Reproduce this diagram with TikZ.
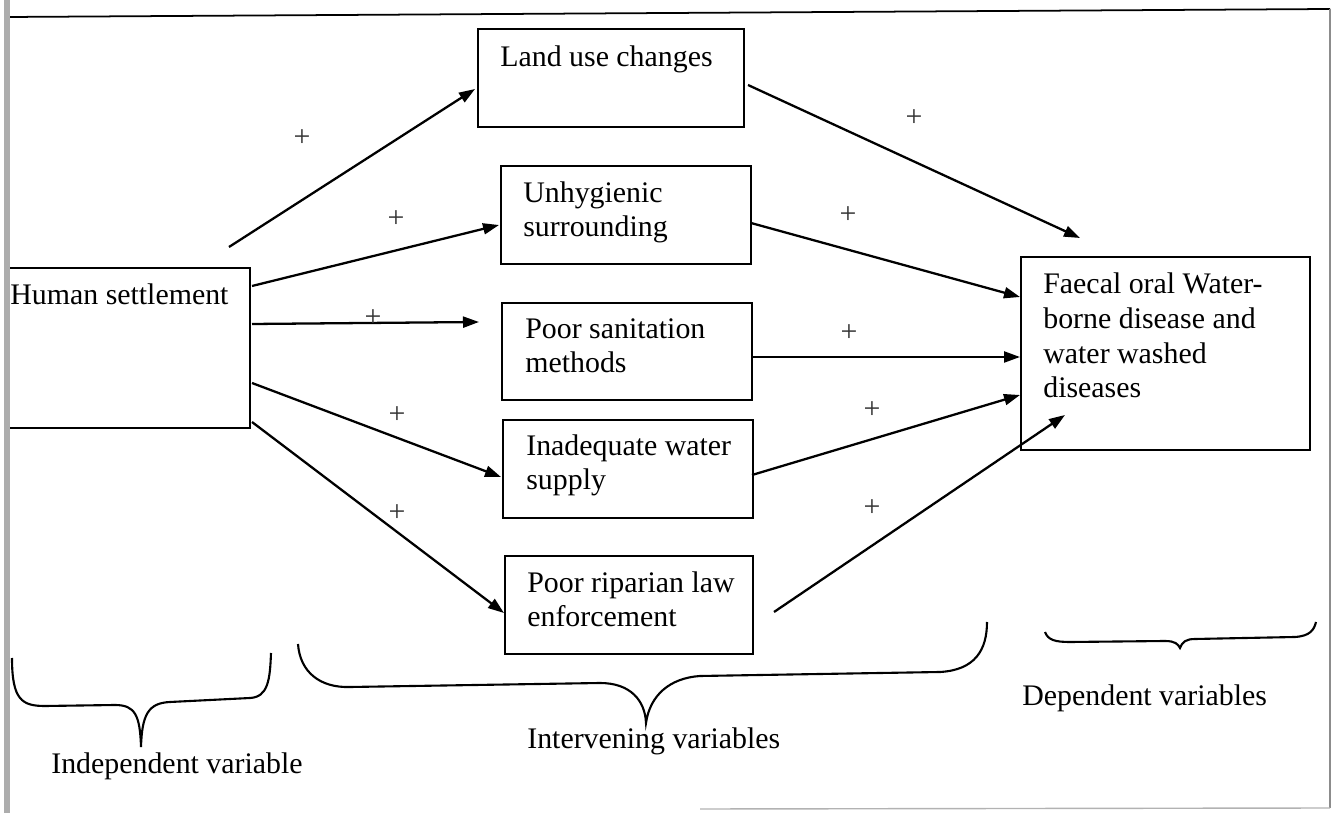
\documentclass[tikz,border=0pt]{standalone}
\usepackage{fontspec}
\setmainfont{Liberation Serif}
\usetikzlibrary{arrows.meta}

\tikzset{
  box/.style={draw,line width=1.2pt,anchor=north west,inner sep=0pt},
  txt/.style={anchor=base west,inner sep=0pt,align=left,font=\fontsize{17}{19.9}\selectfont},
  plus/.style={inner sep=0pt,text=black!80,font=\fontsize{17}{19.9}\selectfont},
  link/.style={line width=1.3pt,-{Triangle[length=0.32cm,width=0.22cm]}},
  brace/.style={line width=1.2pt}
}

\begin{document}
\begin{tikzpicture}[x=0.02cm,y=-0.02cm]
      \useasboundingbox (0,0) rectangle (1332,813);
      % frame of the scanned page
      \draw[line width=1pt] (8,17) -- (1330,9);
      \draw[black!45,line width=0.8pt] (1330,9) -- (1330,808);
      \draw[black!30,line width=0.8pt] (700,809) -- (1330,808);
      % boxes
      \node[box,minimum width=5.38cm,minimum height=3.2cm] (hs) at (-20,267) {};
      \node[box,minimum width=5.32cm,minimum height=1.96cm] (land) at (477,28) {};
      \node[box,minimum width=5cm,minimum height=1.96cm] (unhyg) at (500,165) {};
      \node[box,minimum width=5cm,minimum height=1.94cm] (sanit) at (501,302) {};
      \node[box,minimum width=5cm,minimum height=1.96cm] (water) at (502,419) {};
      \node[box,minimum width=4.96cm,minimum height=1.96cm] (ripar) at (504,555) {};
      \node[box,minimum width=5.78cm,minimum height=3.86cm] (fc) at (1020,256) {};
      \fill[white] (0,0) rectangle (4,813);
      \fill[black!32] (4,0) rectangle (10,813);
      % texts (base = last line)
      \node[txt] (hstxt) at (10,305) {Human settlement};
      \node[txt] (landtxt) at (500,67) {Land use changes};
      \node[txt] (unhygtxt) at (523,237) {Unhygienic\\surrounding};
      \node[txt] (sanittxt) at (525,373) {Poor sanitation\\methods};
      \node[txt] (watertxt) at (526,490) {Inadequate water\\supply};
      \node[txt] (ripartxt) at (527,627) {Poor riparian law\\enforcement};
      \node[txt] (fctxt) at (1043,398) {Faecal oral Water-\\borne disease and\\water washed\\diseases};
      % arrow ends
      \coordinate (hsA) at (229,247);  \coordinate (landW) at (475,89);
      \coordinate (hsB) at (252,286);  \coordinate (unhygW) at (499,225);
      \coordinate (hsC) at (252,324);  \coordinate (sanitW) at (479,322);
      \coordinate (hsD) at (252,383);  \coordinate (waterW) at (501,477);
      \coordinate (hsE) at (252,422);  \coordinate (riparW) at (504,613);
      \coordinate (landE) at (748,85);   \coordinate (fcA) at (1080,238);
      \coordinate (unhygE) at (751,223); \coordinate (fcB) at (1020,297);
      \coordinate (sanitE) at (751,357); \coordinate (fcC) at (1020,357);
      \coordinate (waterE) at (752,475); \coordinate (fcD) at (1020,395);
      \coordinate (riparE) at (774,612); \coordinate (fcE) at (1065,415);
      \foreach \s/\t in {hsA/landW,hsB/unhygW,hsC/sanitW,hsD/waterW,hsE/riparW,
        landE/fcA,unhygE/fcB,sanitE/fcC,waterE/fcD,riparE/fcE}
        \draw[link] (\s) -- (\t);
      % signs
      \foreach \x/\y [count=\i] in {302/138,396/219,373/318,397/415,397/513,
        914/118,848/215,849/333,872/410,872/508}
        \node[plus] (p\i) at (\x,\y) {+};
      % braces
      \draw[brace] (12,658) .. controls (12,700) and (22,706) .. (45,706) -- (115,705)
        .. controls (135,705) and (140,715) .. (141,747)
        .. controls (142,715) and (148,703) .. (170,702) -- (250,698)
        .. controls (268,697) and (270,680) .. (271,653);
      \draw[brace] (298,644) .. controls (300,672) and (320,688) .. (350,687) -- (600,683)
        .. controls (630,683) and (645,700) .. (646,723)
        .. controls (650,695) and (670,678) .. (700,676) -- (940,672)
        .. controls (975,670) and (987,650) .. (987,622);
      \draw[brace] (1045,632) .. controls (1048,640) and (1055,642) .. (1070,642) -- (1165,641)
        .. controls (1175,641) and (1178,644) .. (1180,648)
        .. controls (1182,642) and (1186,639) .. (1195,639) -- (1295,637)
        .. controls (1310,636) and (1314,630) .. (1316,622);
      \node[txt] (indep) at (51,773) {Independent variable};
      \node[txt] (interv) at (527,748) {Intervening variables};
      \node[txt] (dep) at (1022,705) {Dependent variables};
    \end{tikzpicture}
\end{document}
